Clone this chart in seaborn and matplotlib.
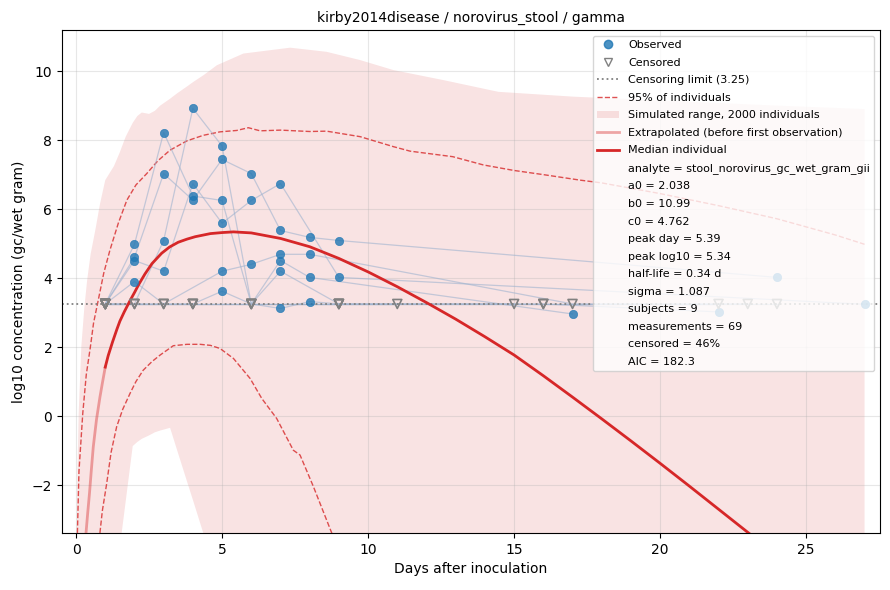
import matplotlib
matplotlib.use("Agg")
import matplotlib.pyplot as plt
import seaborn as sns
import pandas as pd
from matplotlib.lines import Line2D
from matplotlib.patches import Patch

# ---------------- data ----------------
TITLE = "kirby2014disease / norovirus_stool / gamma"
CENSOR_LIMIT = 3.25

# long-form measurements: subject, day, value (None = censored)
subj = ([1] * 9 + [2] * 10 + [3] * 10 + [4] * 9 + [5] * 9 +
        [6] * 9 + [7] * 4 + [8] * 5 + [9] * 4)
day = ([1, 2, 3, 4, 5, 6, 7, 8, 17] +
       [1, 2, 3, 4, 5, 6, 7, 9, 16, 22] +
       [1, 2, 3, 4, 5, 6, 7, 8, 9, 24] +
       [1, 2, 3, 4, 5, 6, 7, 9, 27] +
       [1, 2, 3, 5, 6, 7, 8, 17, 23] +
       [1, 2, 4, 5, 6, 7, 8, 9, 15] +
       [1, 6, 9, 11] +
       [1, 3, 4, 9, 24] +
       [1, 4, 16, 22])
value = ([None, 4.98, 8.22, 6.38, 6.25, None, 4.51, 4.02, 2.96] +
         [None, None, 5.09, 8.92, 7.83, None, 4.20, None, None, 3.02] +
         [None, 4.60, 7.03, 6.26, 7.44, 7.03, 5.38, 5.18, 5.09, 4.02] +
         [None, 4.51, 4.20, 6.74, 5.59, 6.25, 6.74, 4.02, 3.24] +
         [None, 3.90, None, 4.20, 4.40, 4.69, 4.69, None, None] +
         [None, None, None, 3.62, None, 3.12, 3.32, None, None] +
         [None, None, None, None] +
         [None, None, None, None, None] +
         [None, None, None, None])

# median individual (solid, from first observation) and extrapolated part
median_days = [1.0, 1.1, 1.25, 1.4, 1.5, 1.65, 1.85, 2.0, 2.15, 2.36, 2.6,
               2.93, 3.2, 3.5, 3.8, 4.08, 4.6, 5.0, 5.39, 6, 7, 8, 9, 10, 11,
               12, 13, 14, 15, 16, 17, 18, 19, 20, 21, 22, 23, 23.6]
median_vals = [1.42, 1.75, 2.15, 2.52, 2.75, 3.02, 3.35, 3.58, 3.82, 4.12,
               4.42, 4.72, 4.90, 5.04, 5.13, 5.20, 5.29, 5.32, 5.34, 5.31,
               5.15, 4.91, 4.57, 4.18, 3.75, 3.29, 2.81, 2.30, 1.77, 1.17,
               0.55, -0.08, -0.72, -1.37, -2.03, -2.70, -3.37, -3.77]
extrap_days = [0.30, 0.34, 0.40, 0.46, 0.52, 0.59, 0.70, 0.82, 0.90, 1.0]
extrap_vals = [-3.8, -3.4, -2.8, -2.24, -1.6, -0.89, -0.1, 0.56, 0.95, 1.42]

# 95% of individuals
upper95_days = [0.04, 0.10, 0.23, 0.35, 0.49, 0.60, 0.76, 0.95, 1.16, 1.45,
                1.74, 2.05, 2.42, 2.8, 3.22, 3.8, 4.36, 4.93, 5.5, 5.9, 6.3,
                7.0, 8.0, 8.58, 9.73, 10.87, 11.44, 12.9, 13.95, 15, 16, 17.26,
                18, 20, 22, 24, 26, 27]
upper95_vals = [-3.6, -1.6, 0.08, 1.2, 2.0, 2.7, 3.36, 4.15, 4.81, 5.6, 6.26,
                6.7, 7.03, 7.4, 7.71, 7.98, 8.14, 8.24, 8.28, 8.36, 8.27, 8.29,
                8.25, 8.26, 8.10, 7.81, 7.68, 7.52, 7.28, 7.12, 7.00, 6.84,
                6.76, 6.45, 6.10, 5.72, 5.25, 4.98]
lower95_days = [0.79, 0.90, 1.05, 1.20, 1.39, 1.6, 1.85, 2.05, 2.3, 2.6, 2.88,
                3.33, 3.8, 4.25, 4.6, 4.93, 5.39, 5.96, 6.36, 6.87, 7.44, 7.67,
                8.13, 8.76, 8.85]
lower95_vals = [-3.6, -2.75, -1.95, -1.05, -0.31, 0.2, 0.66, 1.0, 1.33, 1.58,
                1.77, 2.04, 2.08, 2.08, 2.05, 1.96, 1.67, 1.09, 0.51, -0.07,
                -0.99, -1.13, -2.05, -3.4, -3.6]

# simulated range, 2000 individuals
band_days = [0.02, 0.05, 0.09, 0.18, 0.28, 0.38, 0.5, 0.66, 0.82, 1.0, 1.3,
             1.5, 1.7, 1.94, 2.1, 2.25, 2.5, 2.7, 2.88, 3.22, 3.45, 3.79, 4.02,
             4.36, 4.6, 4.82, 5.73, 7.33, 8.58, 9.73, 10.87, 12.58, 14.46,
             17.03, 20, 24, 27]
band_upper = [-3.8, -1.5, 0.08, 2.01, 3.1, 3.94, 4.7, 5.39, 6.15, 6.84, 7.25,
              7.65, 8.1, 8.5, 8.7, 8.8, 8.76, 8.85, 9.0, 9.2, 9.35, 9.55, 9.69,
              9.88, 10.03, 10.17, 10.51, 10.68, 10.56, 10.32, 10.03, 9.74,
              9.40, 9.26, 9.15, 9.0, 8.9]
band_lower = [-8, -8, -8, -8, -8, -8, -8, -8, -8, -8, -8,
              -3.8, -2.47, -0.87, -0.75, -0.66, -0.56, -0.47, -0.42, -0.34,
              -0.96, -1.87, -2.48, -3.4,
              -4.05, -8, -8, -8, -8, -8, -8, -8, -8, -8, -8, -8, -8]

stats_labels = [
    "analyte = stool_norovirus_gc_wet_gram_gii",
    "a0 = 2.038", "b0 = 10.99", "c0 = 4.762",
    "peak day = 5.39", "peak log10 = 5.34", "half-life = 0.34 d",
    "sigma = 1.087", "subjects = 9", "measurements = 69",
    "censored = 46%", "AIC = 182.3",
]

# ---------------- build frame ----------------
df = pd.DataFrame({"subject": subj, "day": day, "value": value})
df["censored"] = df["value"].isna()
df["plot_value"] = df["value"].fillna(CENSOR_LIMIT).astype(float)
df = df.sort_values(["subject", "day"])

RED = "#d62728"
BLUE = "#1f77b4"

fig, ax = plt.subplots(figsize=(8.9, 5.9), dpi=100)
fig.subplots_adjust(left=0.0697, right=0.9888, top=0.949, bottom=0.0966)

ax.fill_between(band_days, band_lower, band_upper, color=RED, alpha=0.13,
                linewidth=0, zorder=1)

sns.lineplot(x=upper95_days, y=upper95_vals, ax=ax, color=RED, alpha=0.8,
             lw=1.0, linestyle="--", estimator=None, sort=False, zorder=2)
sns.lineplot(x=lower95_days, y=lower95_vals, ax=ax, color=RED, alpha=0.8,
             lw=1.0, linestyle="--", estimator=None, sort=False, zorder=2)

sns.lineplot(data=df, x="day", y="plot_value", units="subject",
             estimator=None, color="#9fb3cf", alpha=0.6, lw=0.9, ax=ax,
             legend=False, zorder=2)

ax.axhline(CENSOR_LIMIT, color="gray", ls=":", lw=1.3, zorder=2.5)

sns.lineplot(x=extrap_days, y=extrap_vals, ax=ax, color=RED, alpha=0.4,
             lw=2.0, estimator=None, sort=False, zorder=3)
sns.lineplot(x=median_days, y=median_vals, ax=ax, color=RED, lw=2.0,
             estimator=None, sort=False, zorder=3)

obs = df[~df["censored"]]
cen = df[df["censored"]]
sns.scatterplot(data=obs, x="day", y="plot_value", ax=ax, color=BLUE,
                alpha=0.8, s=36, edgecolor=BLUE, linewidth=0.5, zorder=4,
                legend=False)
sns.scatterplot(data=cen, x="day", y="plot_value", ax=ax, marker="v",
                color="none", edgecolor="gray", linewidth=1.2, s=42, zorder=4,
                legend=False)

ax.set_xlim(-0.48, 27.53)
ax.set_ylim(-3.39, 11.19)
ax.set_xticks([0, 5, 10, 15, 20, 25])
ax.set_yticks([-2, 0, 2, 4, 6, 8, 10])
ax.grid(True, alpha=0.3)
ax.set_xlabel("Days after inoculation", fontsize=10)
ax.set_ylabel("log10 concentration (gc/wet gram)", fontsize=10)
ax.set_title(TITLE, fontsize=10)

handles = [
    Line2D([], [], marker="o", ls="none", color=BLUE, alpha=0.8, markersize=6),
    Line2D([], [], marker="v", ls="none", mfc="none", mec="gray",
           markersize=6, mew=1.0),
    Line2D([], [], color="gray", ls=":", lw=1.3),
    Line2D([], [], color=RED, ls="--", alpha=0.8, lw=1.0),
    Patch(facecolor=RED, alpha=0.13, linewidth=0),
    Line2D([], [], color=RED, alpha=0.4, lw=2.0),
    Line2D([], [], color=RED, lw=2.0),
] + [Line2D([], [], color="none") for _ in stats_labels]
labels = ["Observed", "Censored", "Censoring limit (3.25)",
          "95% of individuals", "Simulated range, 2000 individuals",
          "Extrapolated (before first observation)",
          "Median individual"] + stats_labels
ax.legend(handles, labels, loc="upper right", fontsize=8, labelspacing=0.68)

fig.savefig("out.png", dpi=100)
